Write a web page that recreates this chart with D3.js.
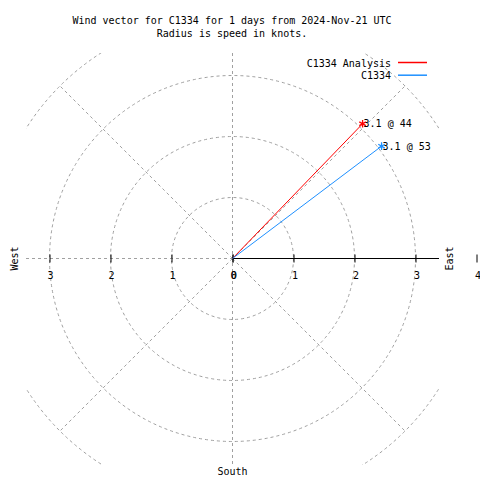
<!DOCTYPE html>
<html>
<head>
<meta charset="utf-8">
<script src="https://cdn.jsdelivr.net/npm/d3@7"></script>
<style>
  html, body { margin: 0; padding: 0; background: #fff; }
  svg { display: block; }
  text { font-family: "DejaVu Sans Mono", monospace; font-size: 10px; fill: #000; }
</style>
</head>
<body>
<svg id="chart" width="480" height="480"></svg>
<script>
// ---- data ----
const titleLines = ["Wind vector for C1334 for 1 days from 2024-Nov-21 UTC", "Radius is speed in knots."];
const seriesNames = ["C1334 Analysis", "C1334"];
const speeds = [3.07, 3.06];       // knots
const directions = [44, 53];       // degrees clockwise from north
const ringValues = [1, 2, 3, 4];
const diagonalAngles = [45, 135, 225, 315];
const eastTicks = [0, 1, 2, 3, 4];
const westTicks = [0, 1, 2, 3];
const compassLabels = ["East", "West", "South"];

// ---- styles ----
const seriesColors = ["#ff0000", "#1e90ff"];
const gridColor = "#a0a0a0";

const W = 480, H = 480;
const cx = 232.5, cy = 258.5;
const clip = { x0: 26, x1: 439, y0: 53, y1: 465 };

const svg = d3.select("#chart");
svg.append("rect").attr("width", W).attr("height", H).attr("fill", "#fff");

const r = d3.scaleLinear().domain([0, 4]).range([0, 244]);
const ang = d3.scaleLinear().domain([0, 360]).range([0, 2 * Math.PI]);

svg.append("clipPath").attr("id", "plotclip")
  .append("rect")
  .attr("x", clip.x0).attr("y", clip.y0)
  .attr("width", clip.x1 - clip.x0).attr("height", clip.y1 - clip.y0);

const grid = svg.append("g").attr("clip-path", "url(#plotclip)")
  .attr("fill", "none").attr("stroke", gridColor).attr("stroke-width", 1)
  .attr("stroke-dasharray", "3,3");

grid.selectAll("circle.ring").data(ringValues).enter().append("circle")
  .attr("class", "ring").attr("cx", cx).attr("cy", cy).attr("r", d => r(d));

grid.selectAll("line.diag").data(diagonalAngles).enter().append("line")
  .attr("class", "diag")
  .attr("x1", cx).attr("y1", cy)
  .attr("x2", d => cx + r(4) * Math.sin(ang(d)))
  .attr("y2", d => cy - r(4) * Math.cos(ang(d)));

// vertical axis (dashed) and west axis (dashed)
grid.append("line").attr("x1", cx).attr("x2", cx).attr("y1", clip.y0).attr("y2", clip.y1);
grid.append("line").attr("x1", clip.x0).attr("x2", cx).attr("y1", cy).attr("y2", cy);

// east axis solid
svg.append("line").attr("x1", cx).attr("x2", clip.x1).attr("y1", cy).attr("y2", cy)
  .attr("stroke", "#000").attr("stroke-width", 1);

// ticks
const tickG = svg.append("g").attr("stroke", "#000").attr("stroke-width", 1);
tickG.selectAll("line.e").data(eastTicks).enter().append("line")
  .attr("x1", d => Math.round(cx + r(d)) + 0).attr("x2", d => Math.round(cx + r(d)) + 0)
  .attr("y1", cy - 4).attr("y2", cy + 4);
tickG.selectAll("line.w").data(westTicks).enter().append("line")
  .attr("x1", d => Math.round(cx - r(d)) + 0).attr("x2", d => Math.round(cx - r(d)) + 0)
  .attr("y1", cy - 4).attr("y2", cy + 4);

svg.selectAll("text.et").data(eastTicks).enter().append("text")
  .attr("x", d => cx + r(d) + 1.5).attr("y", cy + 20)
  .attr("text-anchor", "middle").text(d => d);
svg.selectAll("text.wt").data(westTicks).enter().append("text")
  .attr("x", d => cx - r(d) + 1).attr("y", cy + 20)
  .attr("text-anchor", "middle").text(d => d);

// compass labels
svg.append("text").attr("transform", `translate(453,${cy}) rotate(-90)`)
  .attr("text-anchor", "middle").text(compassLabels[0]);
svg.append("text").attr("transform", `translate(18,${cy}) rotate(-90)`)
  .attr("text-anchor", "middle").text(compassLabels[1]);
svg.append("text").attr("x", cx).attr("y", 475)
  .attr("text-anchor", "middle").text(compassLabels[2]);

// title
svg.selectAll("text.title").data(titleLines).enter().append("text")
  .attr("x", 232).attr("y", (d, i) => 24 + i * 13)
  .attr("text-anchor", "middle").text(d => d);

// vectors
const vec = seriesNames.map((n, i) => ({
  name: n, speed: speeds[i], dir: directions[i], color: seriesColors[i],
  x: cx + r(speeds[i]) * Math.sin(ang(directions[i])),
  y: cy - r(speeds[i]) * Math.cos(ang(directions[i]))
}));

const vg = svg.append("g");
vg.selectAll("line.vec").data(vec).enter().append("line")
  .attr("x1", cx).attr("y1", cy).attr("x2", d => d.x).attr("y2", d => d.y)
  .attr("stroke", d => d.color).attr("stroke-width", 1);

const star = d3.symbol().type(d3.symbolAsterisk).size(40);
vg.selectAll("path.star").data(vec).enter().append("path")
  .attr("transform", d => `translate(${d.x},${d.y})`)
  .attr("d", star).attr("fill", "none")
  .attr("stroke", d => d.color).attr("stroke-width", 1.3);

vg.selectAll("text.vl").data(vec).enter().append("text")
  .attr("x", d => d.x + 1).attr("y", d => d.y + 3.5)
  .text(d => d.speed.toFixed(1) + " @ " + d.dir);

// legend
const lg = svg.append("g");
seriesNames.forEach((n, i) => {
  lg.append("text").attr("x", 391).attr("y", 66.5 + i * 12.7)
    .attr("text-anchor", "end").text(n);
  lg.append("line").attr("x1", 398).attr("x2", 427)
    .attr("y1", 62.5 + i * 12.7).attr("y2", 62.5 + i * 12.7)
    .attr("stroke", seriesColors[i]).attr("stroke-width", 1.5);
});
</script>
</body>
</html>
